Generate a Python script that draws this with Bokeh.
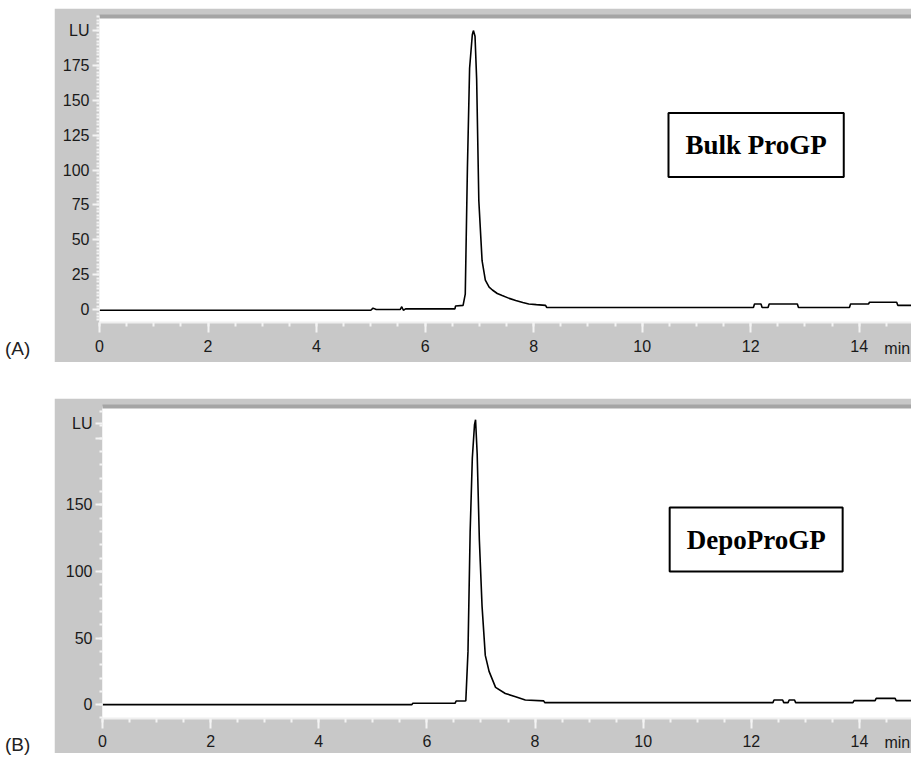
from bokeh.plotting import figure
from bokeh.models import FixedTicker, Label, Div, Spacer, LinearAxis, Range1d
from bokeh.layouts import column, row
from bokeh.embed import file_html
from bokeh.resources import INLINE

# ---------------- data ----------------
a_time = [0.0, 5.00, 5.04, 5.10, 5.54, 5.57, 5.60, 5.64, 6.55, 6.56, 6.70, 6.74, 6.78, 6.82,
          6.87, 6.89, 6.92, 6.95, 6.99, 7.05, 7.11, 7.18, 7.24, 7.33, 7.42, 7.55, 7.67, 7.80,
          7.91, 8.05, 8.22, 8.24, 12.05, 12.07, 12.19, 12.21, 12.32, 12.34, 12.86, 12.88,
          13.82, 13.84, 14.17, 14.19, 14.69, 14.71, 15.0]
a_signal = [-0.5, -0.5, 1.0, 0.0, 0.0, 2.0, -0.5, 0.5, 0.5, 2.5, 3.0, 11.0, 102.0, 173.0,
            197.0, 200.0, 196.0, 165.0, 78.0, 35.0, 21.0, 16.0, 14.0, 11.5, 10.0, 8.0, 6.5, 5.0,
            4.0, 3.5, 3.0, 1.5, 1.5, 4.0, 4.0, 1.5, 1.5, 4.0, 4.0, 1.5,
            1.5, 4.0, 4.0, 5.2, 5.2, 3.0, 3.0]

b_time = [0.0, 5.72, 5.74, 6.52, 6.54, 6.70, 6.72, 6.76, 6.80, 6.84, 6.88, 6.90, 6.93, 6.97,
          7.02, 7.08, 7.15, 7.27, 7.45, 7.64, 7.82, 8.16, 8.18, 12.40, 12.42, 12.58, 12.60,
          12.68, 12.70, 12.80, 12.82, 13.88, 13.90, 14.29, 14.31, 14.66, 14.68, 15.0]
b_signal = [0.0, 0.0, 1.0, 1.0, 2.7, 2.7, 3.0, 40.0, 130.0, 185.0, 210.0, 214.0, 188.0, 124.0,
            74.0, 37.0, 25.0, 13.0, 8.4, 6.0, 3.5, 2.8, 1.5, 1.5, 3.5, 3.5, 1.5,
            1.5, 3.5, 3.5, 1.5, 1.5, 3.0, 3.0, 4.7, 4.7, 3.0, 3.0]

x_ticks = [0, 2, 4, 6, 8, 10, 12, 14]
x_minor = [i * 0.5 for i in range(31)]
x_unit_pos = 14.7
x_unit = "min"

a_yticks = [0, 25, 50, 75, 100, 125, 150, 175, 200]
a_ylabels = {0: "0", 25: "25", 50: "50", 75: "75", 100: "100", 125: "125", 150: "150", 175: "175", 200: "LU"}
a_yminor = [i * 2.5 - 10 for i in range(90)]

b_yticks = [0, 50, 100, 150, 200, 211]
b_ylabels = {0: "0", 50: "50", 100: "100", 150: "150", 200: "", 211: "LU"}
b_yminor = [i * 10 - 10 for i in range(25)]

GRAY = "#c8c8c8"
TICK = "#f4f4f4"
FONT = "Liberation Sans Narrow, Liberation Sans, sans-serif"


def panel(time, signal, yr, yticks, ylabels, yminor, name, name_xy, height, left, bottom, standoff):
    p = figure(width=859, height=height, x_range=Range1d(0, 15), y_range=Range1d(*yr),
               output_backend="svg", toolbar_location=None,
               min_border_left=left, min_border_right=0, min_border_top=8, min_border_bottom=bottom,
               border_fill_color=GRAY, background_fill_color="white", outline_line_color=None)
    p.xgrid.visible = False
    p.ygrid.visible = False
    p.line(time, signal, line_color="black", line_width=1.6)

    xa = p.xaxis[0]
    xa.ticker = FixedTicker(ticks=x_ticks, minor_ticks=x_minor)
    xa.axis_line_color = "#efefef"
    xa.axis_line_width = 2
    xa.major_tick_line_color = TICK
    xa.major_tick_line_width = 2
    xa.major_tick_out = 10
    xa.major_tick_in = 0
    xa.minor_tick_line_color = TICK
    xa.minor_tick_line_width = 2
    xa.minor_tick_out = 4
    xa.minor_tick_in = 0
    xa.major_label_standoff = standoff
    xa.major_label_text_font = FONT
    xa.major_label_text_font_size = "16px"
    xa.major_label_text_color = "#1a1a1a"

    # unit label on the same line as the tick labels
    unit = LinearAxis(ticker=FixedTicker(ticks=[x_unit_pos]),
                      major_label_overrides={x_unit_pos: x_unit},
                      axis_line_color=None, major_tick_line_color=None, minor_tick_line_color=None,
                      major_tick_out=0, major_tick_in=0, minor_tick_out=0, minor_tick_in=0,
                      major_label_standoff=-15 - (7 - standoff), major_label_text_font=FONT,
                      major_label_text_font_size="16px", major_label_text_color="#1a1a1a")
    p.add_layout(unit, "below")

    ya = p.yaxis[0]
    ya.ticker = FixedTicker(ticks=yticks, minor_ticks=yminor)
    ya.major_label_overrides = ylabels
    ya.axis_line_color = None
    ya.major_tick_line_color = TICK
    ya.major_tick_line_width = 2
    ya.major_tick_out = 7
    ya.major_tick_in = 0
    ya.minor_tick_line_color = TICK
    ya.minor_tick_line_width = 2
    ya.minor_tick_out = 3
    ya.minor_tick_in = 0
    ya.major_label_standoff = 3
    ya.major_label_text_font = FONT
    ya.major_label_text_font_size = "16px"
    ya.major_label_text_color = "#1a1a1a"

    top = LinearAxis(ticker=FixedTicker(ticks=[]), axis_line_color="#a5a5a5", axis_line_width=4,
                     major_tick_line_color=None, minor_tick_line_color=None)
    p.add_layout(top, "above")

    p.add_layout(Label(x=name_xy[0], y=name_xy[1], text=name, text_align="center",
                       text_baseline="middle", text_font="Liberation Serif", text_font_style="bold",
                       text_font_size="27px", text_color="black", border_line_color="black",
                       border_line_width=2, background_fill_color="white", padding=17))
    return p


pa = panel(a_time, a_signal, (-9.3, 210.1), a_yticks, a_ylabels, a_yminor,
           "Bulk ProGP", (12.1, 118), 354, 45, 40, 7)
pb = panel(b_time, b_signal, (-10.4, 223.9), b_yticks, b_ylabels, b_yminor,
           "DepoProGP", (12.09, 124), 355, 48, 35, 6)

da = Div(text='<div style="font-family:Liberation Sans,sans-serif;font-size:19px;color:#222;margin-top:322px;">(A)</div>',
         width=44, height=354)
db = Div(text='<div style="font-family:Liberation Sans,sans-serif;font-size:19px;color:#222;margin-top:328px;">(B)</div>',
         width=44, height=355)

layout = column(Spacer(height=8), row(da, pa), Spacer(height=26), row(db, pb))

open("out.html", "w").write(file_html(layout, INLINE))
